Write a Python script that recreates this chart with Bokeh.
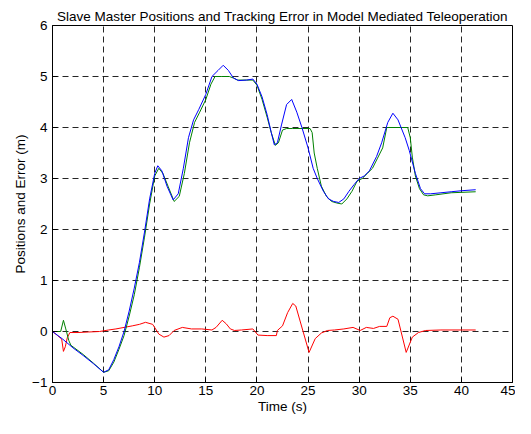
from bokeh.plotting import figure
from bokeh.models import FixedTicker, Range1d
from bokeh.embed import file_html
from bokeh.resources import INLINE

title_text = "Slave Master Positions and Tracking Error in Model Mediated Teleoperation"
x_label = "Time (s)"
y_label = "Positions and Error (m)"
x_ticks = [0, 5, 10, 15, 20, 25, 30, 35, 40, 45]
y_ticks = [-1, 0, 1, 2, 3, 4, 5, 6]

slave_t = [0, 1, 2, 3, 4, 5, 5.5, 6, 6.5, 7, 7.5, 8, 8.5, 9, 9.5, 10, 10.3, 10.7, 11.2, 11.8,
           12.3, 12.8, 13.3, 13.8, 14.3, 15, 15.6, 16.2, 16.7, 17.2, 17.7, 18.2, 19, 19.6, 20,
           20.5, 21, 21.4, 21.7, 22.0, 22.4, 22.9, 23.4, 23.9, 24.4, 25, 25.5, 25.9, 26.5, 27,
           27.5, 28.0, 28.5, 29.0, 29.5, 30.0, 30.5, 31.0, 31.7, 32.2, 32.8, 33.3, 33.8, 34.1,
           34.5, 34.9, 35.5, 36.0, 36.4, 37, 38, 39, 40, 41.4]
slave_v = [0, -0.15, -0.32, -0.47, -0.63, -0.8, -0.75, -0.55, -0.3, 0.0, 0.4, 0.85, 1.35, 1.95,
           2.6, 3.1, 3.25, 3.15, 2.85, 2.58, 2.7, 3.2, 3.8, 4.15, 4.35, 4.65, 5.0, 5.12, 5.22,
           5.12, 4.97, 4.92, 4.93, 4.95, 4.85, 4.6, 4.25, 3.9, 3.66, 3.7, 4.05, 4.45, 4.55, 4.3,
           4.0, 3.6, 3.2, 3.0, 2.75, 2.6, 2.55, 2.53, 2.6, 2.75, 2.88, 3.0, 3.05, 3.15, 3.43,
           3.7, 4.1, 4.28, 4.15, 4.0, 3.8, 3.55, 3.1, 2.8, 2.7, 2.7, 2.72, 2.74, 2.76, 2.78]

master_t = [0, 0.8, 1.07, 1.3, 1.6, 1.8, 3, 4, 5, 5.5, 6, 6.5, 7, 7.5, 8, 8.5, 9, 9.5, 10, 10.4,
            10.8, 11.3, 11.9, 12.4, 12.9, 13.4, 13.9, 14.4, 15, 15.5, 15.9, 16.5, 17.3, 17.7,
            18.1, 19, 19.6, 20, 20.5, 21, 21.4, 21.8, 22.1, 22.5, 22.9, 23.5, 24.5, 25.2, 25.4,
            25.6, 25.9, 26.3, 26.8, 27.3, 27.8, 28.3, 28.8, 29.3, 29.8, 30.3, 30.8, 31.3, 31.8,
            32.3, 32.7, 33.5, 34.2, 34.75, 35.0, 35.2, 35.5, 35.9, 36.3, 36.7, 37.5, 39, 41.4]
master_v = [0, 0, 0.22, 0.05, -0.18, -0.27, -0.45, -0.62, -0.8, -0.77, -0.6, -0.35, -0.08, 0.3,
            0.72, 1.25, 1.85, 2.5, 3.05, 3.2, 3.1, 2.85, 2.55, 2.65, 3.1, 3.7, 4.1, 4.3, 4.55,
            4.85, 5.0, 5.0, 5.0, 4.97, 4.93, 4.93, 4.93, 4.83, 4.55, 4.2, 3.9, 3.65, 3.7, 3.95,
            3.98, 3.98, 3.98, 3.98, 3.9, 3.5, 3.2, 2.85, 2.65, 2.55, 2.52, 2.5, 2.6, 2.75, 2.95,
            3.0, 3.1, 3.2, 3.4, 3.6, 4.0, 4.0, 4.0, 4.0, 3.8, 3.42, 3.05, 2.8, 2.68, 2.66, 2.68,
            2.72, 2.74]

error_t = [0, 0.5, 0.9, 1.07, 1.25, 1.45, 1.7, 2.5, 3.5, 4.6, 5.5, 6.2, 7, 7.8, 8.5, 9.1, 9.8,
           10.4, 10.9, 11.4, 11.9, 12.7, 13.6, 14.6, 15.6, 16.0, 16.6, 17.0, 17.4, 17.8, 18.5,
           19.6, 20.1, 21.0, 21.9, 22.0, 22.5, 23.0, 23.5, 23.8, 25.1, 25.7, 26.3, 26.9, 27.6,
           28.5, 29.4, 30.1, 30.7, 31.4, 32.0, 32.7, 33.0, 33.3, 33.8, 34.6, 35.2, 35.8, 36.5,
           38, 40, 41.4]
error_v = [0, -0.08, -0.15, -0.39, -0.3, -0.12, -0.02, -0.02, -0.01, 0.0, 0.03, 0.05, 0.08,
           0.11, 0.14, 0.18, 0.14, -0.05, -0.11, -0.08, 0.02, 0.08, 0.05, 0.05, 0.03, 0.08,
           0.22, 0.15, 0.05, 0.02, 0.03, 0.05, -0.07, -0.08, -0.08, 0.02, 0.11, 0.37, 0.55,
           0.5, -0.41, -0.14, -0.03, 0.02, 0.03, 0.05, 0.08, 0.02, 0.08, 0.06, 0.1, 0.1, 0.27,
           0.3, 0.24, -0.41, -0.11, -0.02, 0.02, 0.03, 0.03, 0.03]

FONT = "Liberation Sans"

p = figure(width=515, height=418, output_backend="svg", toolbar_location=None,
           x_range=Range1d(0, 45), y_range=Range1d(-1, 6),
           min_border_left=52, min_border_right=3, min_border_top=25, min_border_bottom=36,
           title=title_text)
p.title.align = "center"
p.title.text_font = FONT
p.title.text_font_size = "13.5px"
p.title.text_font_style = "normal"
p.title.text_color = "black"
p.title.standoff = 4
p.title.offset = 0

p.outline_line_color = "black"
p.outline_line_width = 1
p.outline_line_alpha = 1

for ax in (p.xaxis[0], p.yaxis[0]):
    ax.major_tick_in = 5
    ax.major_tick_out = 0
    ax.minor_tick_line_color = None
    ax.axis_line_color = "black"
    ax.major_tick_line_color = "black"
    ax.major_label_text_font = FONT
    ax.major_label_text_font_size = "13.5px"
    ax.major_label_text_color = "black"
    ax.axis_label_text_font = FONT
    ax.axis_label_text_font_size = "13.5px"
    ax.axis_label_text_font_style = "normal"
    ax.axis_label_text_color = "black"

p.xaxis[0].ticker = FixedTicker(ticks=x_ticks)
p.yaxis[0].ticker = FixedTicker(ticks=y_ticks)
p.xaxis[0].axis_label = x_label
p.yaxis[0].axis_label = y_label
p.xaxis[0].major_label_standoff = 3
p.xaxis[0].axis_label_standoff = 1
p.yaxis[0].major_label_standoff = 5
p.yaxis[0].axis_label_standoff = 1

p.xgrid[0].ticker = FixedTicker(ticks=x_ticks)
p.ygrid[0].ticker = FixedTicker(ticks=y_ticks)
for g in (p.xgrid[0], p.ygrid[0]):
    g.grid_line_color = "black"
    g.grid_line_alpha = 0.85
    g.grid_line_dash = "6 4"
    g.grid_line_width = 1

p.line(error_t, error_v, line_color="#ff0000", line_width=1)
p.line(master_t, master_v, line_color="#008000", line_width=1)
p.line(slave_t, slave_v, line_color="#0000ff", line_width=1)

p.background_fill_color = "white"
p.border_fill_color = "white"

open("out.html", "w").write(file_html(p, INLINE))
